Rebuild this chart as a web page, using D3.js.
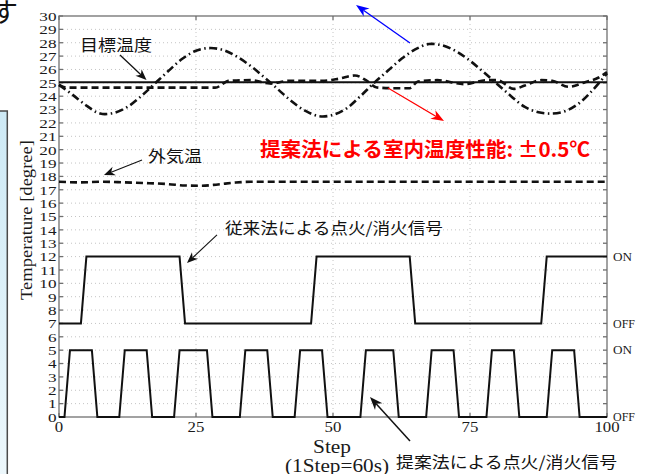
<!DOCTYPE html>
<html><head><meta charset="utf-8">
<script src="https://cdn.jsdelivr.net/npm/d3@7/dist/d3.min.js"></script>
<style>html,body{margin:0;padding:0;background:#fff}svg{display:block}</style>
</head><body>
<script>
// ---------------- data ----------------
const yTickValues = [0,1,2,3,4,5,6,7,8,9,10,11,12,13,14,15,16,17,18,19,20,21,22,23,24,25,26,27,28,29,30];
const xTickValues = [0,25,50,75,100];
const xGridValues = [25,50,75];
const targetTemp = 25.05;

// conventional method indoor temperature (dash-dot)
const convSteps = [0,2.5,5,7.5,10,12.5,15,17.5,20,22.5,25,27.5,30,32.5,35,37.5,40,42.5,45,47.5,50,52.5,55,57.5,60,62.5,65,67.5,70,72.5,75,77.5,80,82.5,85,87.5,90,92.5,95,97.5,100];
const convTemp  = [24.85,24.1,23.3,22.7,22.75,23.2,24.0,24.95,25.9,26.8,27.4,27.6,27.45,26.95,26.25,25.4,24.5,23.6,22.9,22.5,22.6,23.1,24.0,25.0,25.9,26.8,27.5,27.9,27.8,27.35,26.65,25.8,24.9,24.0,23.2,22.8,22.7,22.9,23.5,24.5,25.7];

// proposed method indoor temperature (dashed)
const propSteps = [0,1.5,5,10,15,20,25,28.5,31,35,38.5,42,48,51,54,56,58,61,64,65.5,69,74,78,80,83,85,88,90,93,96,98.5,100];
const propTemp  = [24.84,24.64,24.64,24.64,24.64,24.64,24.64,24.64,25.15,25.2,24.95,25.15,25.15,25.3,25.55,25.2,24.65,24.6,24.6,25.1,25.2,24.9,25.2,25.2,24.55,24.8,25.2,25.15,24.7,25.05,25.4,25.8];

// outdoor temperature (dashed)
const outSteps = [0,4,8,12,16,20,23,26,29,32,35,40,50,60,70,80,90,100];
const outTemp  = [17.6,17.55,17.6,17.55,17.5,17.42,17.32,17.3,17.4,17.53,17.6,17.6,17.6,17.6,17.6,17.6,17.6,17.6];

// conventional ignition signal (OFF=7, ON=12)
const convSigSteps  = [0,4,5,22,23,46,47,64,65,88,89,100];
const convSigValues = [7,7,12,12,7,7,12,12,7,7,12,12];

// proposed ignition signal (OFF=0, ON=5)
const propSigSteps  = [0,1,2,6,7,11,12,16,17,21,22,27,28,33,34,38,39,43,44,48,49,55,56,61,62,67,68,72,73,78,79,83,84,89,90,94,95,100];
const propSigValues = [0,0,5,5,0,0,5,5,0,0,5,5,0,0,5,5,0,0,5,5,0,0,5,5,0,0,5,5,0,0,5,5,0,0,5,5,0,0];

const sigLabels      = ["ON","OFF","ON","OFF"];
const sigLabelValues = [12,7,5,0];

const yAxisLabel = "Temperature [degree]";
const xAxisLabel = "Step";
const xAxisSub   = "(1Step=60s)";

// ---------------- layout ----------------
const W = 646, H = 474;
const L = 59, R = 607, T = 16, B = 417;
const svg = d3.select("body").append("svg").attr("width", W).attr("height", H);
const x = d3.scaleLinear().domain([0,100]).range([L,R]);
const y = d3.scaleLinear().domain([0,30]).range([B,T]);

const defs = svg.append("defs");
const grad = defs.append("linearGradient").attr("id","bx").attr("x1",0).attr("y1",0).attr("x2",0).attr("y2",1);
grad.append("stop").attr("offset","0%").attr("stop-color","#cde9f5");
grad.append("stop").attr("offset","100%").attr("stop-color","#eef8fc");

// slide decoration at the left edge
svg.append("rect").attr("x",-3).attr("y",111).attr("width",10.3).attr("height",380)
  .attr("fill","url(#bx)").attr("stroke","#4a4a4a").attr("stroke-width",1.5);
svg.append("text").attr("x",-9).attr("y",22).attr("font-family","Noto Sans CJK JP")
  .attr("font-size",27).attr("fill","#111").text("す");

// grid
const grid = svg.append("g").attr("stroke","#c4c4c4").attr("stroke-width",1).attr("stroke-dasharray","1,3");
grid.selectAll("line.h").data(yTickValues.filter(v => v>0 && v<30)).join("line")
  .attr("x1",L).attr("x2",R).attr("y1",d=>y(d)).attr("y2",d=>y(d));
grid.selectAll("line.v").data(xGridValues).join("line")
  .attr("y1",T).attr("y2",B).attr("x1",d=>x(d)).attr("x2",d=>x(d));

// axes box + inward ticks
const ax = svg.append("g").attr("stroke","#707070").attr("stroke-width",1.3);
ax.append("rect").attr("x",L).attr("y",T).attr("width",R-L).attr("height",B-T).attr("fill","none");
ax.selectAll("line.yl").data(yTickValues).join("line").attr("x1",L).attr("x2",L+4).attr("y1",d=>y(d)).attr("y2",d=>y(d));
ax.selectAll("line.yr").data(yTickValues).join("line").attr("x1",R-4).attr("x2",R).attr("y1",d=>y(d)).attr("y2",d=>y(d));
ax.selectAll("line.xb").data(xTickValues).join("line").attr("x1",d=>x(d)).attr("x2",d=>x(d)).attr("y1",B).attr("y2",B-4);
ax.selectAll("line.xt").data(xTickValues).join("line").attr("x1",d=>x(d)).attr("x2",d=>x(d)).attr("y1",T).attr("y2",T+4);

// tick labels via d3 axes
const gy = svg.append("g").attr("transform",`translate(${L},0)`)
  .call(d3.axisLeft(y).tickValues(yTickValues).tickSize(0).tickPadding(2).tickFormat(d3.format("d")));
gy.select(".domain").remove();
gy.selectAll("text").attr("font-family","Liberation Serif").attr("font-size",13.5).attr("fill","#1a1a1a")
  .attr("transform","scale(1.27,1)");
const gx = svg.append("g").attr("transform",`translate(0,${B})`)
  .call(d3.axisBottom(x).tickValues(xTickValues).tickSize(0).tickPadding(5).tickFormat(d3.format("d")));
gx.select(".domain").remove();
gx.selectAll(".tick text").attr("font-family","Liberation Serif").attr("font-size",14).attr("fill","#1a1a1a")
  .attr("transform","scale(1.2,1)").attr("x",0);
gx.selectAll(".tick").each(function(d){ d3.select(this).attr("transform",`translate(${x(d)},0)`); });

// ON/OFF labels on right
svg.append("g").selectAll("text").data(sigLabels).join("text")
  .attr("x",613).attr("y",(d,i)=>y(sigLabelValues[i])).attr("dy","0.35em")
  .attr("font-family","Liberation Serif").attr("font-size",12).attr("fill","#1a1a1a")
  .attr("textLength",d=>d==="ON"?19:22).attr("lengthAdjust","spacingAndGlyphs").text(d=>d);

// axis titles
svg.append("text").attr("transform",`translate(32,220) rotate(-90)`).attr("text-anchor","middle")
  .attr("font-family","Liberation Serif").attr("font-size",17.5).attr("fill","#1a1a1a")
  .attr("textLength",160).attr("lengthAdjust","spacingAndGlyphs").text(yAxisLabel);
svg.append("text").attr("x",332).attr("y",453).attr("text-anchor","middle")
  .attr("font-family","Liberation Serif").attr("font-size",19).attr("fill","#1a1a1a")
  .attr("textLength",38).attr("lengthAdjust","spacingAndGlyphs").text(xAxisLabel);
svg.append("text").attr("x",337).attr("y",472).attr("text-anchor","middle")
  .attr("font-family","Liberation Serif").attr("font-size",18).attr("fill","#1a1a1a")
  .attr("textLength",104).attr("lengthAdjust","spacingAndGlyphs").text(xAxisSub);

// ---------------- series ----------------
const plot = svg.append("g");
const zip = (xs, ys) => xs.map((s,i)=>[s, ys[i]]);
const lineSmooth = d3.line().x(d=>x(d[0])).y(d=>y(d[1])).curve(d3.curveCatmullRom.alpha(0.5));
const lineMono = d3.line().x(d=>x(d[0])).y(d=>y(d[1])).curve(d3.curveMonotoneX);
const lineLin = d3.line().x(d=>x(d[0])).y(d=>y(d[1]));

// target
plot.append("line").attr("x1",x(0)).attr("x2",x(100)).attr("y1",y(targetTemp)).attr("y2",y(targetTemp))
  .attr("stroke","#111").attr("stroke-width",2);
// outdoor
plot.append("path").attr("d",lineMono(zip(outSteps,outTemp))).attr("fill","none")
  .attr("stroke","#111").attr("stroke-width",2.6).attr("stroke-dasharray","7,4");
// proposed indoor
plot.append("path").attr("d",lineMono(zip(propSteps,propTemp))).attr("fill","none")
  .attr("stroke","#111").attr("stroke-width",2.6).attr("stroke-dasharray","7,4");
// conventional indoor
plot.append("path").attr("d",lineSmooth(zip(convSteps,convTemp))).attr("fill","none")
  .attr("stroke","#111").attr("stroke-width",2.6).attr("stroke-dasharray","8,3.5,1.5,3.5");
// signals
plot.append("path").attr("d",lineLin(zip(convSigSteps,convSigValues))).attr("fill","none")
  .attr("stroke","#111").attr("stroke-width",2).attr("stroke-linejoin","miter");
plot.append("path").attr("d",lineLin(zip(propSigSteps,propSigValues))).attr("fill","none")
  .attr("stroke","#111").attr("stroke-width",2).attr("stroke-linejoin","miter");

// ---------------- annotations (positions in data units) ----------------
function arrow(s0,v0,s1,v1,color,len,half,sw){
  const x0=x(s0),y0=y(v0),x1=x(s1),y1=y(v1);
  const a=Math.atan2(y1-y0,x1-x0), c=Math.cos(a), s=Math.sin(a);
  const bx=x1-len*c, by=y1-len*s, nx=x1-len*0.7*c, ny=y1-len*0.7*s;
  svg.append("line").attr("x1",x0).attr("y1",y0).attr("x2",nx).attr("y2",ny)
    .attr("stroke",color).attr("stroke-width",sw);
  svg.append("path").attr("d",`M${x1},${y1}L${bx - half*s},${by + half*c}L${nx},${ny}L${bx + half*s},${by - half*c}Z`)
    .attr("fill",color);
}
function jtext(s,v,str,size,width,color,weight){
  svg.append("text").attr("x",x(s)).attr("y",y(v)).attr("dominant-baseline","central")
    .attr("font-family","Noto Sans CJK JP").attr("font-size",size).attr("font-weight",weight||400)
    .attr("fill",color).attr("textLength",width).attr("lengthAdjust","spacingAndGlyphs").text(str);
}
jtext(3.83,27.87,"目標温度",16,72,"#111");
arrow(11.13,27.08,15.97,25.21,"#111",11,4.5,1.3);
jtext(16.24,19.6,"外気温",16,54,"#111");
arrow(15.15,19.23,8.21,18.1,"#111",11,4.5,1.1);
jtext(30.29,14.25,"従来法による点火/消火信号",16,218,"#111");
arrow(28.83,13.62,23.36,11.52,"#111",11,4.5,1.1);
jtext(61.5,-3.29,"提案法による点火/消火信号",16,221,"#111");
arrow(64.05,-1.8,56.75,1.5,"#111",13,5,1.5);
jtext(36.68,20.12,"提案法による室内温度性能: ±0.5℃",20,330,"#ff0000",700);
arrow(64.05,27.98,54.2,30.82,"#0000ff",13,5,1.3);
arrow(60.04,24.61,70.26,22.14,"#ff0000",13,5,1.3);
</script>
</body></html>
